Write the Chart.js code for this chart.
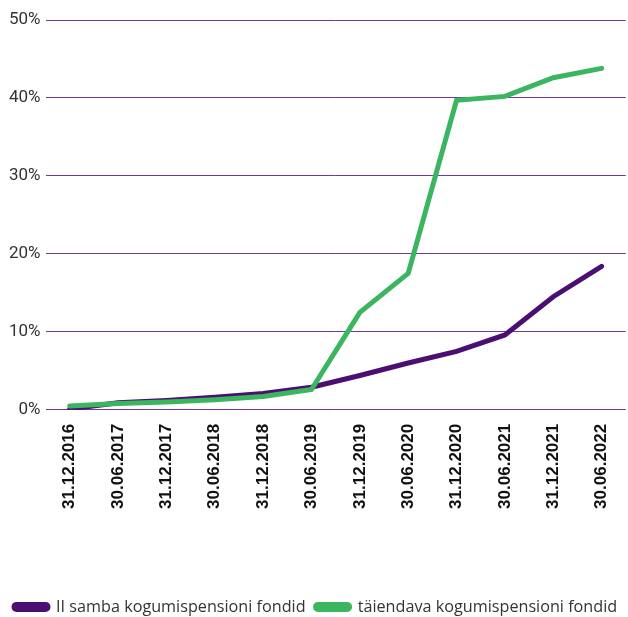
<!DOCTYPE html>
<html>
<head>
<meta charset="utf-8">
<script src="https://cdn.jsdelivr.net/npm/chart.js@4"></script>
<style>
  html, body { margin: 0; padding: 0; background: #fff; }
  #wrap { width: 628px; height: 617px; }
</style>
</head>
<body>
<div id="wrap"><canvas id="chart"></canvas></div>
<script>
const labels = ["31.12.2016", "30.06.2017", "31.12.2017", "30.06.2018", "31.12.2018", "30.06.2019",
                "31.12.2019", "30.06.2020", "31.12.2020", "30.06.2021", "31.12.2021", "30.06.2022"];
const samba2 = [0.1, 0.9, 1.2, 1.6, 2.1, 2.9, 4.4, 6.0, 7.5, 9.6, 14.5, 18.4];
const taiendav = [0.5, 0.8, 1.0, 1.3, 1.7, 2.6, 12.5, 17.5, 39.7, 40.2, 42.6, 43.8];
const seriesNames = ["II samba kogumispensioni fondid", "täiendava kogumispensioni fondid"];
const yTicks = [0, 10, 20, 30, 40, 50];

const purple = "#4b0e72";
const green = "#3bb55f";

new Chart(document.getElementById("chart"), {
    type: "line",
    data: {
        labels: labels,
        datasets: [
            {
                label: seriesNames[0],
                data: samba2,
                borderColor: purple,
                backgroundColor: purple,
                borderWidth: 5,
                borderCapStyle: "round",
                pointRadius: 0,
                tension: 0,
                order: 1,
            },
            {
                label: seriesNames[1],
                data: taiendav,
                borderColor: green,
                backgroundColor: green,
                borderWidth: 5,
                borderCapStyle: "round",
                pointRadius: 0,
                tension: 0,
                order: 0,
            },
        ],
    },
    options: {
        responsive: true,
        maintainAspectRatio: false,
        animation: false,
        layout: { padding: { top: 20, left: 4, right: 0, bottom: -8 } },
        plugins: {
            tooltip: { enabled: false },
            legend: {
                position: "bottom",
                align: "start",
                labels: {
                    boxWidth: 34,
                    boxHeight: 5,
                    useBorderRadius: true,
                    borderRadius: 2.5,
                    color: "#333",
                    padding: 10,
                    font: { family: "Open Sans", size: 16.2 },
                    sort: (a, b) => a.datasetIndex - b.datasetIndex,
                },
            },
        },
        scales: {
            x: {
                offset: true,
                grid: { display: false },
                border: { display: false },
                ticks: {
                    color: "#111",
                    minRotation: 90,
                    maxRotation: 90,
                    padding: 6,
                    font: { family: "Liberation Sans", size: 17, weight: "bold" },
                },
                afterFit: (scale) => { scale.height = 179; },
            },
            y: {
                min: 0,
                max: 50,
                afterBuildTicks: (scale) => { scale.ticks = yTicks.map(v => ({ value: v })); },
                grid: { color: "#6a3c9c", lineWidth: 1, drawTicks: false },
                border: { display: false },
                ticks: {
                    color: "#333",
                    padding: 5,
                    font: { family: "Roboto", size: 17 },
                    callback: (v) => v + "%",
                },
            },
        },
    },
});
</script>
</body>
</html>
